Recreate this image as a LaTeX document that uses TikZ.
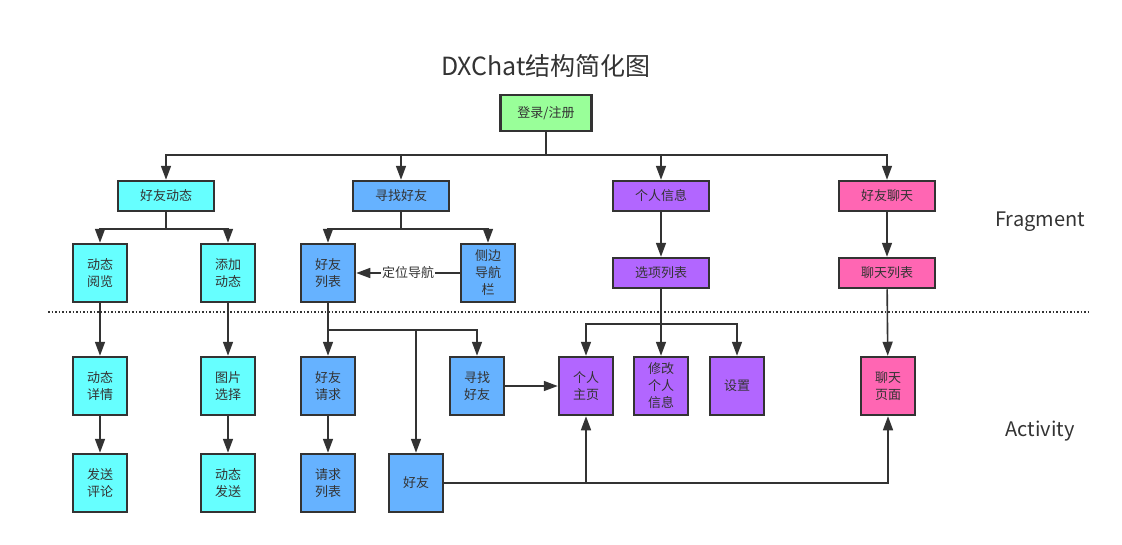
\documentclass[tikz,border=0pt]{standalone}
\usepackage{fontspec}
\setmainfont{Noto Sans CJK SC}
\usetikzlibrary{arrows.meta}
\definecolor{lineC}{HTML}{333333}
\definecolor{greenC}{HTML}{99FF99}
\definecolor{cyanC}{HTML}{66FFFF}
\definecolor{blueC}{HTML}{66B2FF}
\definecolor{purpleC}{HTML}{B266FF}
\definecolor{pinkC}{HTML}{FF66B3}
\tikzset{
  box/.style = {draw=lineC, line width=2.5pt, text=lineC, align=center,
                inner sep=0pt, font=\fontsize{13}{17}\selectfont},
  wide/.style = {box, minimum width=96pt, minimum height=30pt},
  sq/.style = {box, minimum width=54pt, minimum height=58pt},
  link/.style = {draw=lineC, line width=1.6pt, -{Triangle[length=14pt,width=10pt]}},
  layer/.style = {text=lineC, font=\fontsize{20}{24}\selectfont}
}
\begin{document}
\begin{tikzpicture}[x=1pt, y=-1pt]
\useasboundingbox (0,0) rectangle (1122,544);
%%%% Title:
\node[text=lineC, font=\fontsize{25}{30}\selectfont] (title) at (546,66) {DXChat结构简化图};
\node[wide, fill=greenC, minimum width=91pt, minimum height=36pt] (login) at (546,113) {登录/注册};

%%%% Fragment row 1
\node[wide, fill=cyanC] (fdyn) at (166,196) {好友动态};
\node[wide, fill=blueC] (find) at (401,196) {寻找好友};
\node[wide, fill=purpleC] (info) at (661,196) {个人信息};
\node[wide, fill=pinkC] (chat) at (887,196) {好友聊天};

%%%% Fragment row 2
\node[sq, fill=cyanC] (browse) at (100,273) {动态\\阅览};
\node[sq, fill=cyanC] (add) at (228,273) {添加\\动态};
\node[sq, fill=blueC] (flist) at (328,273) {好友\\列表};
\node[sq, fill=blueC] (side) at (488,273) {侧边\\导航\\栏};
\node[wide, fill=purpleC] (opts) at (661,273) {选项列表};
\node[wide, fill=pinkC] (clist) at (887,273) {聊天列表};

%%%% Activity row 1
\node[sq, fill=cyanC] (detail) at (100,386) {动态\\详情};
\node[sq, fill=cyanC] (pic) at (228,386) {图片\\选择};
\node[sq, fill=blueC] (req) at (328,386) {好友\\请求};
\node[sq, fill=blueC] (findA) at (477,386) {寻找\\好友};
\node[sq, fill=purpleC] (home) at (586,386) {个人\\主页};
\node[sq, fill=purpleC] (edit) at (661,386) {修改\\个人\\信息};
\node[sq, fill=purpleC] (setting) at (737,386) {设置};
\node[sq, fill=pinkC] (chatpage) at (888,386) {聊天\\页面};

%%%% Activity row 2
\node[sq, fill=cyanC] (comment) at (100,483) {发送\\评论};
\node[sq, fill=cyanC] (send) at (228,483) {动态\\发送};
\node[sq, fill=blueC] (reqlist) at (328,483) {请求\\列表};
\node[sq, fill=blueC] (friend) at (416,483) {好友};

%%%% Layer labels and dotted line
\node[layer] (frag) at (1040,222) {Fragment};
\node[layer] (act) at (1040,431) {Activity};
\draw[lineC, dotted, line width=1.5pt] (48,312) -- (1090,312);

%%%% Bus coordinates
\coordinate (loginbus) at (546,155);
\coordinate (fdynbus) at (166,229);
\coordinate (findbus) at (401,229);
\coordinate (flistbus) at (328,330);
\coordinate (optsbus) at (661,324);

%%%% Connectors
\foreach \t in {fdyn,find,info,chat}
  \draw[link] (login.south) -- (loginbus) -| (\t.north);
\foreach \t in {browse,add}
  \draw[link] (fdyn.south) -- (fdynbus) -| (\t.north);
\foreach \t in {flist,side}
  \draw[link] (find.south) -- (findbus) -| (\t.north);
\draw[link] (side.west) -- node[fill=white, inner sep=1pt, text=lineC,
  font=\fontsize{13}{15}\selectfont] (navlabel) {定位导航} (flist.east);
\draw[link] (info) -- (opts);
\draw[link] (chat) -- (clist);
\draw[link] (browse) -- (detail);
\draw[link] (detail) -- (comment);
\draw[link] (add) -- (pic);
\draw[link] (pic) -- (send);
\draw[link] (flist) -- (req);
\draw[link] (req) -- (reqlist);
\draw[link] (clist) -- (chatpage);
\draw[link] (opts) -- (edit);
\foreach \t in {home,setting}
  \draw[link] (opts.south) -- (optsbus) -| (\t.north);
\foreach \t in {friend,findA}
  \draw[link] (flist.south) -- (flistbus) -| (\t.north);
\draw[link] (findA) -- (home);
\draw[link] (friend.east) -| (home.south);
\draw[link] (friend.east) -| (chatpage.south);
\end{tikzpicture}
\end{document}
